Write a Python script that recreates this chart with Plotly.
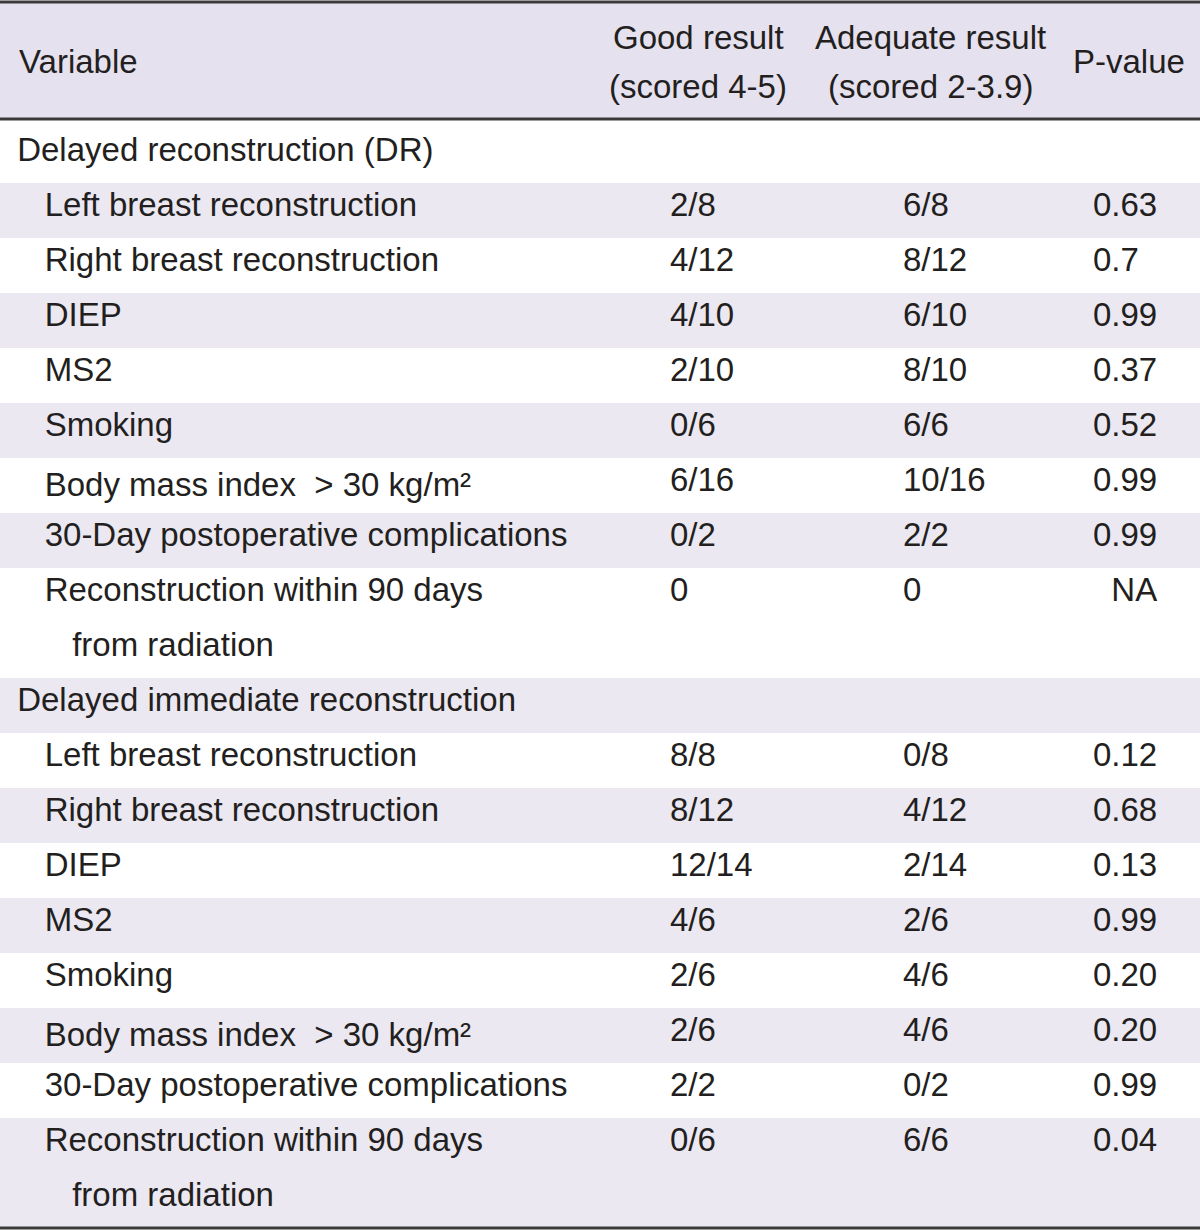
import plotly.graph_objects as go

# ---- data ----
header_lines = [
    ["Variable"],
    ["Good result", "(scored 4-5)"],
    ["Adequate result", "(scored 2-3.9)"],
    ["P-value"],
]

section_names = ["Delayed reconstruction (DR)", "Delayed immediate reconstruction"]

variables = [
    "Left breast reconstruction",
    "Right breast reconstruction",
    "DIEP",
    "MS2",
    "Smoking",
    "Body mass index\u00a0\u00a0>\u00a030 kg/m\u00b2",
    "30-Day postoperative complications",
    "Reconstruction within 90 days<br>from radiation",
]

dr_good = ["2/8", "4/12", "4/10", "2/10", "0/6", "6/16", "0/2", "0"]
dr_adequate = ["6/8", "8/12", "6/10", "8/10", "6/6", "10/16", "2/2", "0"]
dr_p = ["0.63", "0.7", "0.99", "0.37", "0.52", "0.99", "0.99", "NA"]

dir_good = ["8/8", "8/12", "12/14", "4/6", "2/6", "2/6", "2/2", "0/6"]
dir_adequate = ["0/8", "4/12", "2/14", "2/6", "4/6", "4/6", "0/2", "6/6"]
dir_p = ["0.12", "0.68", "0.13", "0.99", "0.20", "0.20", "0.99", "0.04"]

# ---- styling ----
NB = "\u00a0"
FONT = "Liberation Sans, Arial, sans-serif"
FS = 33
TXT = "#231f20"
HEAD_FILL = "#e6e1ef"
SHADE = "#ebe8f2"
W, H = 1200, 1231

# ---- build table columns (a wrapped label continues on its own table line) ----
col_var, col_good, col_adeq, col_p, row_fill = [], [], [], [], []
logical = 0
for name, good, adeq, pv in [
    (section_names[0], dr_good, dr_adequate, dr_p),
    (section_names[1], dir_good, dir_adequate, dir_p),
]:
    fill = "white" if logical % 2 == 0 else SHADE
    col_var.append(NB + name)
    col_good.append("")
    col_adeq.append("")
    col_p.append("")
    row_fill.append(fill)
    logical += 1
    for v, g, a, p in zip(variables, good, adeq, pv):
        fill = "white" if logical % 2 == 0 else SHADE
        parts = v.split("<br>")
        col_var.append(NB * 4 + parts[0])
        col_good.append(g)
        col_adeq.append(a)
        col_p.append(NB * 2 + p if p == "NA" else p)
        row_fill.append(fill)
        for extra in parts[1:]:
            col_var.append(NB * 7 + extra)
            col_good.append("")
            col_adeq.append("")
            col_p.append("")
            row_fill.append(fill)
        logical += 1

fig = go.Figure()

fig.add_trace(go.Table(
    domain=dict(x=[0, 1], y=[0, 1]),
    columnwidth=[662, 233, 190, 115],
    header=dict(
        values=["", "", "", ""],
        fill_color="white",
        line=dict(width=0, color="white"),
        height=128,
    ),
    cells=dict(
        values=[col_var, col_good, col_adeq, col_p],
        fill_color=[row_fill] * 4,
        line=dict(width=0, color="white"),
        align="left",
        font=dict(family=FONT, size=FS, color=TXT),
        height=55,
    ),
))


def py(px):
    return 1 - px / H


# header background
fig.add_shape(type="rect", xref="paper", yref="paper", x0=0, x1=1,
              y0=py(119), y1=py(2), fillcolor=HEAD_FILL, line=dict(width=0),
              layer="above")

# header labels
hdr_x = [17, 698, 930, 1129]
hdr_anchor = ["left", "center", "center", "center"]
for lines, xpx, anc in zip(header_lines, hdr_x, hdr_anchor):
    ys = [61] if len(lines) == 1 else [37, 86]
    for t, ypx in zip(lines, ys):
        fig.add_annotation(text=t, xref="paper", yref="paper",
                           x=xpx / W, y=py(ypx), xanchor=anc, yanchor="middle",
                           showarrow=False,
                           font=dict(family=FONT, size=FS, color=TXT))

line_color = "#3a3a3a"
for ypx in [2, 119, 1228]:
    fig.add_shape(type="line", xref="paper", yref="paper", x0=0, x1=1,
                  y0=py(ypx), y1=py(ypx),
                  line=dict(color=line_color, width=3), layer="above")

fig.update_layout(
    width=W, height=H,
    margin=dict(l=0, r=0, t=0, b=0),
    paper_bgcolor="white",
)

fig.write_html("out.html", config={"displayModeBar": False},
               post_script="document.body.style.margin='0';")
